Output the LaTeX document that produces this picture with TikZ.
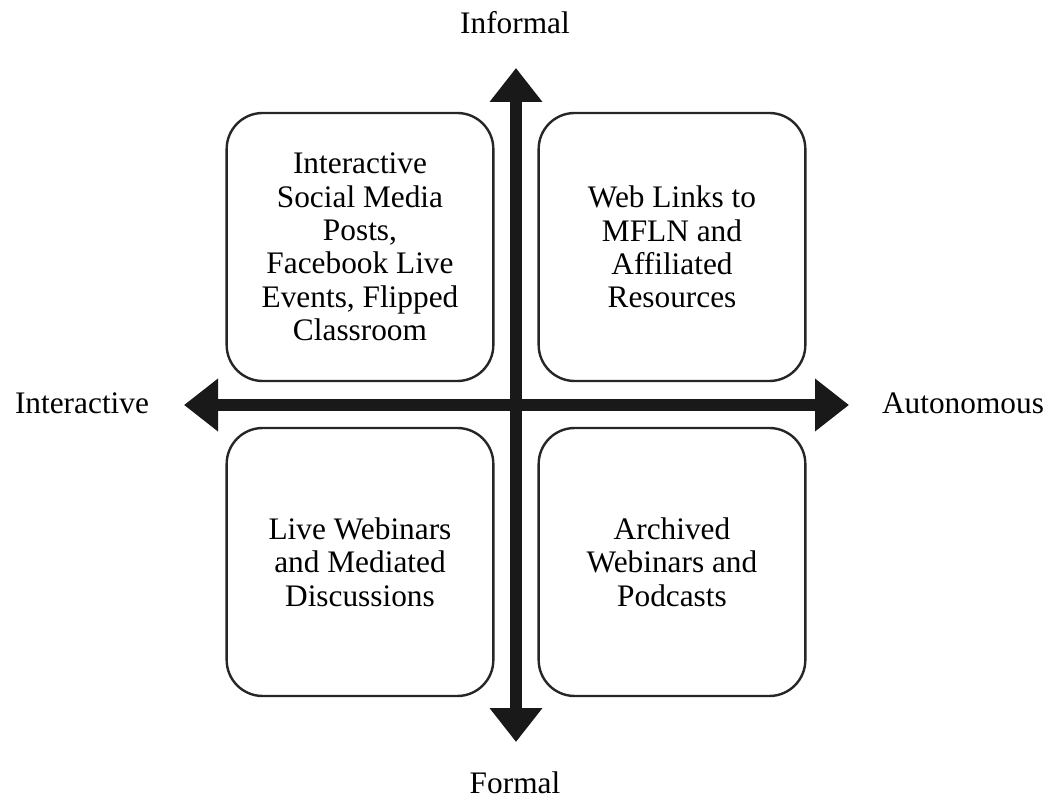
\documentclass[tikz,border=0pt]{standalone}
\usepackage{fontspec}
\setmainfont{Liberation Serif}
\usepackage{tikz}
\usetikzlibrary{arrows.meta, positioning, calc}

\begin{document}
\begin{tikzpicture}[x=0.75pt, y=-0.75pt,
    quadbox/.style={draw=black!85, line width=1.8pt, rounded corners=27pt,
        minimum width=200pt, minimum height=201pt, align=center,
        font=\fontsize{23.5}{25}\selectfont, inner sep=0pt},
    axislabel/.style={font=\fontsize{23.5}{25}\selectfont, inner sep=0pt},
    axis/.style={line width=9pt, black!90,
        {Triangle[length=25.5pt, width=38pt]}-{Triangle[length=25.5pt, width=38pt]}}]
    \useasboundingbox (0,0) rectangle (1047,799);

    % The four quadrants
    \node[quadbox] (tl) at (360,247) {Interactive\\Social Media\\Posts,\\Facebook Live\\Events, Flipped\\Classroom};
    \node[quadbox] (tr) at (672,247) {Web Links to\\MFLN and\\Affiliated\\Resources};
    \node[quadbox] (bl) at (360,562) {Live Webinars\\and Mediated\\Discussions};
    \node[quadbox] (br) at (672,562) {Archived\\Webinars and\\Podcasts};

    % Axis ends
    \coordinate (top) at (516,68);
    \coordinate (bottom) at (516,742);
    \coordinate (left) at (184,405);
    \coordinate (right) at (849,405);

    % The axes
    \draw[axis] (left) -- (right);
    \draw[axis] (top) -- (bottom);

    % Axis labels
    \node[axislabel] (informal) at (515,23) {Informal};
    \node[axislabel] (formal) at (515,783) {Formal};
    \node[axislabel] (interactive) at (82,403) {Interactive};
    \node[axislabel] (autonomous) at (963,403) {Autonomous};
\end{tikzpicture}
\end{document}
